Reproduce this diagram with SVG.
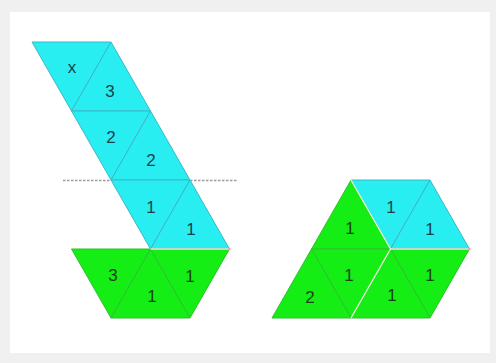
<svg xmlns="http://www.w3.org/2000/svg" width="496" height="363" viewBox="0 0 496 363">
<style>
.c{fill:#28eef2;stroke:#3cb8c8;stroke-width:1;stroke-linejoin:round}
.g{fill:#14ee14;stroke:#2ec02e;stroke-width:1;stroke-linejoin:round}
.sep{fill:none;stroke:#f4f4e0;stroke-width:1.3}
.pk{fill:none;stroke:#f2e0e8;stroke-width:1.4}
.dash{stroke:#9a9a9a;stroke-width:1.5;stroke-dasharray:2.5 1.5}
text{font-family:"Liberation Sans",Arial,sans-serif;font-size:17px;text-anchor:middle;dominant-baseline:central}
.tc{fill:#173f4c}
.tg{fill:#174017}
</style>
<rect x="0" y="0" width="496" height="363" fill="#f0f0f0"/>
<rect x="10" y="12" width="480" height="341" fill="#ffffff"/>

<g id="connectors">
<line class="dash" x1="63" y1="180.5" x2="111" y2="180.5"/>
<line class="dash" x1="190" y1="180.5" x2="237" y2="180.5"/>
</g>

<!-- left figure: cyan strip -->
<g id="strip-row1">
<polygon class="c" points="32,42 111,42 71.5,111"/>
<polygon class="c" points="111,42 150.5,111 71.5,111"/>
<text class="tc" x="72" y="67">x</text>
<text class="tc" x="110" y="91">3</text>
</g>
<g id="strip-row2">
<polygon class="c" points="71.5,111 150.5,111 111,180"/>
<polygon class="c" points="150.5,111 190,180 111,180"/>
<text class="tc" x="111" y="137">2</text>
<text class="tc" x="151" y="160">2</text>
</g>
<g id="strip-row3">
<polygon class="c" points="111,180 190,180 150.5,249"/>
<polygon class="c" points="190,180 229.5,249 150.5,249"/>
<text class="tc" x="151" y="207">1</text>
<text class="tc" x="191" y="229">1</text>
</g>
<!-- left figure: green trapezoid -->
<g id="trapezoid">
<polygon class="g" points="71.5,249 150.5,249 111,318"/>
<polygon class="g" points="150.5,249 190,318 111,318"/>
<polygon class="g" points="150.5,249 229.5,249 190,318"/>
<text class="tg" x="113" y="275">3</text>
<text class="tg" x="152" y="296">1</text>
<text class="tg" x="190" y="276">1</text>
<line class="pk" x1="150.5" y1="249" x2="229.5" y2="249"/>
<circle cx="229.5" cy="249" r="1.3" fill="#f0a0b8"/>
</g>

<!-- right figure -->
<g id="hex-cyan">
<polygon class="c" points="351,180 430,180 390.5,249"/>
<polygon class="c" points="430,180 469.5,249 390.5,249"/>
<text class="tc" x="391" y="207">1</text>
<text class="tc" x="430" y="229">1</text>
</g>
<g id="hex-green-left">
<polygon class="g" points="351,180 390.5,249 311.5,249"/>
<polygon class="g" points="311.5,249 390.5,249 351,318"/>
<polygon class="g" points="311.5,249 351,318 272,318"/>
<text class="tg" x="350" y="228">1</text>
<text class="tg" x="349" y="275">1</text>
<text class="tg" x="310" y="297">2</text>
</g>
<g id="hex-green-right">
<polygon class="g" points="390.5,249 469.5,249 430,318"/>
<polygon class="g" points="390.5,249 430,318 351,318"/>
<text class="tg" x="430" y="275">1</text>
<text class="tg" x="392" y="295">1</text>
</g>
<g id="hex-seams">
<polyline class="sep" points="351,180 390.5,249 351,318"/>
<line class="pk" x1="390.5" y1="249" x2="469.5" y2="249"/>
<circle cx="469.5" cy="249" r="1.3" fill="#f0a0b8"/>
</g>
</svg>
